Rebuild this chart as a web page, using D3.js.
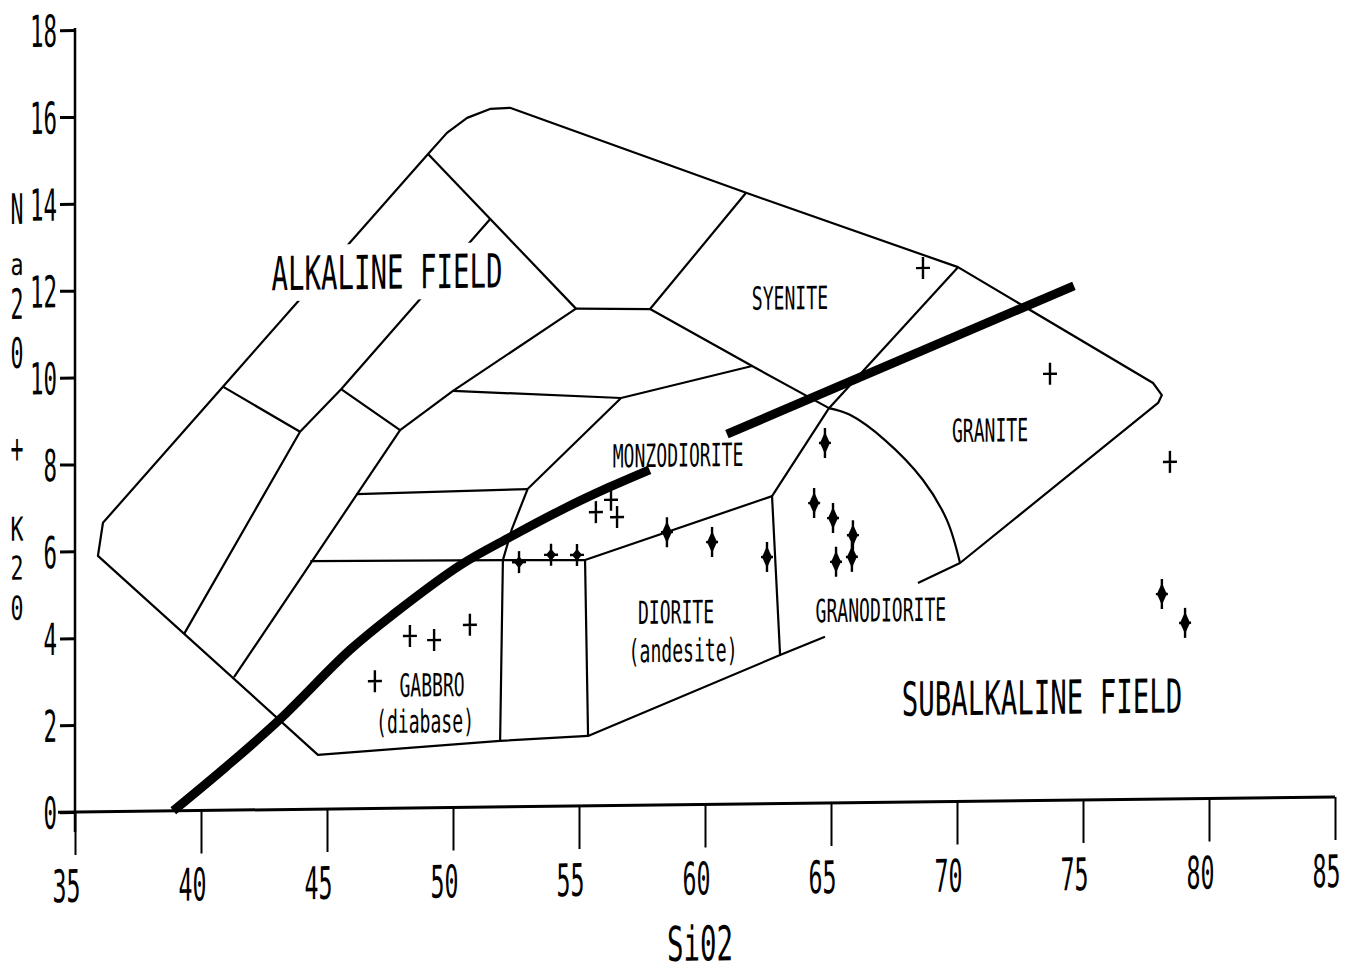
<!DOCTYPE html>
<html><head><meta charset="utf-8">
<script src="https://cdn.jsdelivr.net/npm/d3@7/dist/d3.min.js"></script>
<style>body{margin:0;background:#fff}svg{display:block}text{font-family:"DejaVu Sans Mono",monospace;fill:#000}</style>
</head><body>
<svg id="c" width="1352" height="974"></svg>
<script>
// ---------- DATA ----------
const xTicks = [35, 40, 45, 50, 55, 60, 65, 70, 75, 80, 85];
const yTicks = [0, 2, 4, 6, 8, 10, 12, 14, 16, 18];
const xTitle = "Si02";
const yTitleChars = ["N", "a", "2", "0", "+", "K", "2", "0"];

// field boundaries [SiO2, Na2O+K2O]
const outerBoundary = [
  [68.45,5.04],[70.12,5.49],[77.98,9.12],[78.13,9.30],[77.78,9.58],[70.04,12.30],[61.63,14.07],
  [52.26,16.09],[51.47,16.07],[50.56,15.87],[49.76,15.53],[49.01,15.05],[40.87,9.75],[36.11,6.65],
  [35.91,5.89],[44.64,1.25],[51.87,1.52],[55.36,1.61],[62.98,3.42],[64.76,3.83]
];
const innerLines = [
  [[40.87,9.75],[43.93,8.69],[39.33,4.07]],
  [[43.93,8.69],[45.56,9.66],[51.47,13.53]],
  [[45.56,9.66],[47.90,8.70],[41.31,3.06]],
  [[49.01,15.05],[54.88,11.45]],
  [[47.90,8.70],[50.00,9.59],[54.88,11.45]],
  [[50.00,9.59],[56.67,9.38]],
  [[56.67,9.38],[61.87,10.08]],
  [[54.88,11.45],[57.82,11.42]],
  [[57.82,11.42],[61.63,14.07]],
  [[57.82,11.42],[61.87,10.08],[64.92,9.09]],
  [[70.04,12.30],[64.92,9.09]],
  [[64.92,9.09],[62.66,7.08],[62.98,3.42]],
  [[55.24,5.66],[62.66,7.08]],
  [[44.34,5.71],[51.98,5.68],[55.24,5.66]],
  [[56.67,9.38],[52.96,7.31],[52.34,6.40],[51.98,5.68],[51.87,1.52]],
  [[46.16,7.24],[52.96,7.31]],
  [[55.24,5.66],[55.36,1.61]]
];
const graniteCurve = [[64.92,9.09],[65.75,8.93],[67.14,8.34],[68.65,7.41],[69.60,6.48],[70.12,5.49]];

// alkaline / subalkaline divide (two segments)
const divideLower = [[38.9,0],[41.0,1.0],[43.1,2.06],[45.9,3.65],[47.6,4.45],[50.3,5.58],[52.3,6.22],[54.3,6.82],[56.2,7.33],[57.8,7.72]];
const divideUpper = [[60.87,8.52],[74.64,11.84]];

// samples
const sampleSiO2 = [46.90,48.29,49.25,50.67,52.62,53.89,54.92,55.67,56.27,56.51,58.49,60.28,62.46,64.76,64.33,65.08,65.87,65.83,65.20,68.65,73.69,78.45,78.13,79.05];
const sampleAlk  = [2.93,3.96,3.86,4.20,5.63,5.79,5.78,6.76,7.04,6.64,6.28,6.04,5.68,8.29,6.91,6.56,6.16,5.66,5.55,12.29,9.82,7.76,4.72,4.05];
const sampleMark = ["c","c","c","c","m","m","m","c","c","c","d","d","d","d","d","d","d","d","d","c","c","c","d","d"];

// field names: [text, SiO2, Na2O+K2O, size class]
const fieldLabels = [
  ["ALKALINE FIELD", 47.38, 12.35, "big"],
  ["SUBALKALINE FIELD", 73.37, 2.38, "big"],
  ["SYENITE", 63.37, 11.64, "small"],
  ["GRANITE", 71.31, 8.54, "small"],
  ["MONZODIORITE", 58.93, 8.05, "small"],
  ["DIORITE", 58.85, 4.44, "small"],
  ["(andesite)", 59.13, 3.56, "small"],
  ["GRANODIORITE", 66.98, 4.43, "small"],
  ["GABBRO", 49.17, 2.83, "small"],
  ["(diabase)", 48.89, 2.00, "small"]
];

// ---------- CHART ----------
const svg = d3.select("#c");
const X0 = 75, Y0 = 812;
const g = svg.append("g").attr("transform", `translate(${X0},${Y0}) skewY(-0.68) translate(${-X0},${-Y0})`);
const x = d3.scaleLinear().domain([35, 85]).range([75, 1335]);
const y = d3.scaleLinear().domain([0, 18]).range([812, 30]);
const line = d3.line().x(d => x(d[0])).y(d => y(d[1]));
const smooth = d3.line().x(d => x(d[0])).y(d => y(d[1])).curve(d3.curveCatmullRom.alpha(0.5));

// condensed text: horizontal squeeze by transform (DejaVu Sans Mono advance = 0.602em)
function ctext(parent, str, px, baseline, fs, width, anchor) {
  const sx = width / (str.length * 0.602 * fs);
  return parent.append("text")
    .attr("transform", `translate(${px},${baseline}) scale(${sx.toFixed(4)},1)`)
    .attr("text-anchor", anchor || "middle").attr("font-size", fs).text(str);
}

const sizes = {
  big: {fs: 47, cap: 34, cw: 16.5},
  small: {fs: 32, cap: 23, cw: 10.9}
};

// field lines
g.append("path").attr("d", line(outerBoundary)).attr("fill", "none").attr("stroke", "#000").attr("stroke-width", 2.2).attr("stroke-linejoin", "round");
g.selectAll("path.inner").data(innerLines).enter().append("path").attr("class", "inner")
  .attr("d", d => line(d)).attr("fill", "none").attr("stroke", "#000").attr("stroke-width", 2.2).attr("stroke-linejoin", "round");
g.append("path").attr("d", smooth(graniteCurve)).attr("fill", "none").attr("stroke", "#000").attr("stroke-width", 2.2);

// divide
g.append("path").attr("d", smooth(divideLower)).attr("fill", "none").attr("stroke", "#000").attr("stroke-width", 9);
g.append("path").attr("d", line(divideUpper)).attr("fill", "none").attr("stroke", "#000").attr("stroke-width", 9);

// field labels (with white knock-out for the big alkaline label)
fieldLabels.forEach(([t, sx, sy, cls]) => {
  const s = sizes[cls];
  const w = t.length * s.cw;
  const cx = x(sx), cy = y(sy);
  if (t === "ALKALINE FIELD") {
    g.append("rect").attr("x", cx - w / 2 - 4).attr("y", cy - s.cap / 2 - 11).attr("width", w + 8).attr("height", s.cap + 22).attr("fill", "#fff");
  }
  ctext(g, t, cx, cy + s.cap / 2, s.fs, w, "middle");
});

// samples
const marks = g.selectAll("g.pt").data(sampleSiO2.map((v, i) => [v, sampleAlk[i], sampleMark[i]])).enter()
  .append("g").attr("class", "pt").attr("transform", d => `translate(${x(d[0])},${y(d[1])})`);
marks.append("path").attr("d", d => d[2] === "d" ? "M0,-15V15M-6,0H6" : "M0,-11V11M-7,0H7")
  .attr("stroke", "#000").attr("stroke-width", 2.4).attr("fill", "none");
marks.filter(d => d[2] !== "c").append("path")
  .attr("d", d => d[2] === "d" ? "M0,-11L5,0L0,11L-5,0Z" : "M0,-6L5,0L0,6L-5,0Z").attr("fill", "#000");

// axes
const xAxis = d3.axisBottom(x).tickValues(xTicks).tickSize(43).tickSizeOuter(0).tickFormat("");
const gx = g.append("g").attr("transform", `translate(0,${y(0)})`).call(xAxis);
gx.select(".domain").remove();
gx.selectAll(".tick text").remove();
gx.selectAll(".tick line").attr("stroke", "#000").attr("stroke-width", 2);
gx.selectAll(".tick").each(function (d) { ctext(d3.select(this), String(d), -9, 90, 45, 28, "middle"); });

const yAxis = d3.axisLeft(y).tickValues(yTicks).tickSize(15).tickSizeOuter(0).tickFormat("");
const gy = g.append("g").attr("transform", `translate(${x(35)},0)`).call(yAxis);
gy.select(".domain").remove();
gy.selectAll(".tick text").remove();
gy.selectAll(".tick line").attr("stroke", "#000").attr("stroke-width", 3);
gy.selectAll(".tick").each(function (d) { const s = String(d); ctext(d3.select(this), s, -18, 16, 44, s.length * 13.5, "end"); });

// axis lines
g.append("line").attr("x1", 58).attr("x2", x(85)).attr("y1", y(0)).attr("y2", y(0)).attr("stroke", "#000").attr("stroke-width", 3);
g.append("line").attr("x1", x(35)).attr("x2", x(35)).attr("y1", y(18) - 2).attr("y2", y(0) + 20).attr("stroke", "#000").attr("stroke-width", 2.5);

// axis titles
ctext(g, xTitle, 700, 968, 48, 66, "middle");
const yTitleCenters = [208, 266, 303, 352, 447, 528, 567, 607];
const yTitleSizes   = [42, 30, 42, 42, 42, 33, 33, 33];
yTitleChars.forEach((c, i) => {
  const fs = yTitleSizes[i];
  const h = c === "a" ? fs * 0.55 : fs * 0.73;
  ctext(g, c, 17, yTitleCenters[i] + h / 2, fs, 13, "middle");
});
</script>
</body></html>
